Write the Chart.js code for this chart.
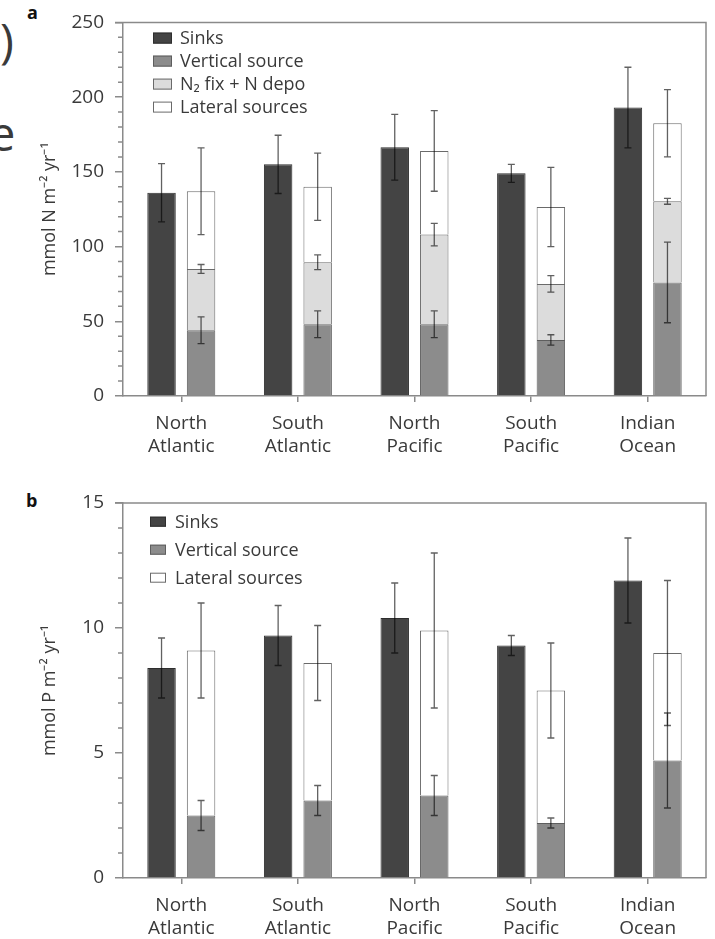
<!DOCTYPE html>
<html><head><meta charset="utf-8">
<script src="https://cdn.jsdelivr.net/npm/chart.js@4.4.0/dist/chart.umd.min.js"></script>
<style>
html,body{margin:0;padding:0;background:#fff;}
body{width:715px;height:939px;overflow:hidden;position:relative;font-family:"Open Sans",sans-serif;}
.wrap{position:absolute;left:0;width:715px;}
#wa{top:0;height:470px;}
#wb{top:476px;height:463px;}
.frag{position:absolute;color:#3a3a3a;font-size:47px;line-height:47px;font-family:"Open Sans",sans-serif;}
.plabel{position:absolute;font-weight:bold;font-size:18px;line-height:18px;color:#111;font-family:"Open Sans",sans-serif;}
</style></head><body>
<div class="frag" style="left:0;top:17px">)</div>
<div class="frag" style="left:-11px;top:110px">e</div>
<div class="plabel" style="left:27px;top:3px">a</div>
<div class="plabel" style="left:26px;top:491px">b</div>
<div id="wa" class="wrap"><canvas id="ca"></canvas></div>
<div id="wb" class="wrap"><canvas id="cb"></canvas></div>
<script>
// ---------- data ----------
const categories = [['North','Atlantic'],['South','Atlantic'],['North','Pacific'],['South','Pacific'],['Indian','Ocean']];

// Panel a: nitrogen (mmol N m-2 yr-1); source values are segment heights of the stacked bar
const nSinks        = [136, 155, 166.5, 149, 193];
const nSinksErr     = [19.5, 19.5, 22, 6, 27];
const nVertical     = [44, 48, 48, 37.5, 76];
const nVerticalErr  = [9, 9, 9, 3.5, 27];
const nFix          = [41, 41.5, 60, 37.5, 54.3];
const nFixErr       = [3, 5, 7.5, 5.5, 2];
const nLateral      = [52, 50.5, 56, 51.5, 52.2];
const nLateralErr   = [29, 22.5, 27, 26.5, 22.5];
const nMajorTicks   = [0, 50, 100, 150, 200, 250];

// Panel b: phosphorus (mmol P m-2 yr-1)
const pSinks        = [8.4, 9.7, 10.4, 9.3, 11.9];
const pSinksErr     = [1.2, 1.2, 1.4, 0.4, 1.7];
const pVertical     = [2.5, 3.1, 3.3, 2.2, 4.7];
const pVerticalErr  = [0.6, 0.6, 0.8, 0.2, 1.9];
const pLateral      = [6.6, 5.5, 6.6, 5.3, 4.3];
const pLateralErr   = [1.9, 1.5, 3.1, 1.9, 2.9];
const pMajorTicks   = [0, 5, 10, 15];

// ---------- styles ----------
const FONT = '"Open Sans", sans-serif';
const AXIS = '#8a8a8a';
const TXT = '#3a3a3a';
const C_SINK = '#444444', C_VERT = '#8c8c8c', C_FIX = '#dcdcdc', C_LAT = '#ffffff';

// ---------- plugins ----------
const framePlugin = {
  id: 'frame',
  afterDraw(chart) {
    const {ctx, chartArea: a} = chart;
    ctx.save();
    ctx.strokeStyle = AXIS; ctx.lineWidth = 1.5;
    ctx.beginPath();
    ctx.moveTo(a.left - 8, a.top); ctx.lineTo(a.right, a.top); ctx.lineTo(a.right, a.bottom);
    ctx.stroke();
    // minor ticks
    const y = chart.scales.y;
    const majors = chart.options.plugins.frame.majors;
    ctx.beginPath();
    y.ticks.forEach(t => {
      if (majors.includes(t.value)) return;
      const py = y.getPixelForValue(t.value);
      ctx.moveTo(a.left - 5, py); ctx.lineTo(a.left, py);
    });
    ctx.stroke();
    ctx.restore();
  }
};

const errorPlugin = {
  id: 'errbars',
  afterDatasetsDraw(chart) {
    const {ctx} = chart;
    const y = chart.scales.y;
    const dsets = chart.data.datasets;
    ctx.save();
    ctx.strokeStyle = 'rgba(0,0,0,0.62)';
    ctx.lineWidth = 1.3;
    dsets.forEach((ds, di) => {
      if (!ds.errors) return;
      const meta = chart.getDatasetMeta(di);
      meta.data.forEach((bar, i) => {
        let top = 0;
        for (let j = 0; j <= di; j++) if (dsets[j].stack === ds.stack) top += dsets[j].data[i];
        const e = ds.errors[i];
        const y1 = y.getPixelForValue(top + e), y2 = y.getPixelForValue(top - e);
        const x = bar.x;
        ctx.beginPath();
        ctx.moveTo(x, y1); ctx.lineTo(x, y2);
        ctx.moveTo(x - 3.5, y1); ctx.lineTo(x + 3.5, y1);
        ctx.moveTo(x - 3.5, y2); ctx.lineTo(x + 3.5, y2);
        ctx.stroke();
      });
    });
    ctx.restore();
  }
};

const legendPlugin = {
  id: 'inlegend',
  afterDraw(chart, args, o) {
    const {ctx, chartArea: a} = chart;
    ctx.save();
    ctx.font = o.fontSize + 'px ' + FONT;
    ctx.textBaseline = 'middle';
    ctx.textAlign = 'left';
    chart.data.datasets.forEach((ds, i) => {
      const cy = a.top + o.dy + i * o.gap;
      const bx = a.left + o.dx;
      ctx.fillStyle = ds.backgroundColor;
      ctx.fillRect(bx, cy - o.bh / 2, o.bw, o.bh);
      ctx.strokeStyle = ds.borderColor; ctx.lineWidth = 1;
      ctx.strokeRect(bx + 0.5, cy - o.bh / 2 + 0.5, o.bw - 1, o.bh - 1);
      ctx.fillStyle = TXT;
      ctx.fillText(ds.label, o.tx + 0, cy + 1);
    });
    ctx.restore();
  }
};

function makeChart(id, cfg) {
  return new Chart(document.getElementById(id), {
    type: 'bar',
    data: { labels: categories, datasets: cfg.datasets },
    options: {
      responsive: true, maintainAspectRatio: false, animation: false,
      layout: { padding: cfg.padding },
      datasets: { bar: { categoryPercentage: 0.678, barPercentage: 0.72, borderWidth: 1 } },
      plugins: {
        legend: { display: false }, tooltip: { enabled: false },
        frame: { majors: cfg.majors },
        inlegend: cfg.legend
      },
      scales: {
        x: {
          stacked: true, offset: true,
          grid: { offset: false, drawOnChartArea: false, drawTicks: true, tickLength: 6, color: AXIS, lineWidth: 1.5 },
          border: { color: AXIS, width: 1.5 },
          ticks: { color: TXT, font: { family: FONT, size: 19 }, padding: 10, maxRotation: 0, autoSkip: false },
          afterFit: s => { s.height = cfg.xH; }
        },
        y: {
          stacked: true, min: 0, max: cfg.max,
          ticks: {
            stepSize: cfg.minor, autoSkip: false, color: TXT, padding: 11,
            font: { family: FONT, size: 19 },
            callback: v => cfg.majors.includes(v) ? String(v) : ''
          },
          grid: { drawOnChartArea: false, tickLength: 8, lineWidth: 1.5,
                  tickColor: c => cfg.majors.includes(c.tick.value) ? AXIS : 'rgba(0,0,0,0)' },
          border: { color: AXIS, width: 1.5 },
          title: { display: true, text: cfg.title, color: TXT, font: { family: FONT, size: 18 }, padding: { top: 39, bottom: 0 } },
          afterFit: s => { s.width = 123; }
        }
      }
    },
    plugins: [framePlugin, errorPlugin, legendPlugin]
  });
}

makeChart('ca', {
  max: 250, minor: 10, majors: nMajorTicks, title: 'mmol N m\u207B\u00B2 yr\u207B\u00B9',
  padding: { top: 15, right: 9, bottom: 14, left: 0 }, xH: 60,
  legend: { dx: 30, dy: 15.7, gap: 23, bw: 19, bh: 11, tx: 180, fontSize: 18 },
  datasets: [
    { label: 'Sinks', data: nSinks, errors: nSinksErr, stack: 'sinks', backgroundColor: C_SINK, borderColor: '#2e2e2e' },
    { label: 'Vertical source', data: nVertical, errors: nVerticalErr, stack: 'src', backgroundColor: C_VERT, borderColor: '#5e5e5e' },
    { label: 'N\u2082 fix + N depo', data: nFix, errors: nFixErr, stack: 'src', backgroundColor: C_FIX, borderColor: '#6a6a6a' },
    { label: 'Lateral sources', data: nLateral, errors: nLateralErr, stack: 'src', backgroundColor: C_LAT, borderColor: '#6a6a6a' }
  ]
});

makeChart('cb', {
  max: 15, minor: 1, majors: pMajorTicks, title: 'mmol P m\u207B\u00B2 yr\u207B\u00B9',
  padding: { top: 27, right: 9, bottom: 5, left: 0 }, xH: 56,
  legend: { dx: 27, dy: 18.7, gap: 28, bw: 16, bh: 10, tx: 175, fontSize: 18 },
  datasets: [
    { label: 'Sinks', data: pSinks, errors: pSinksErr, stack: 'sinks', backgroundColor: C_SINK, borderColor: '#2e2e2e' },
    { label: 'Vertical source', data: pVertical, errors: pVerticalErr, stack: 'src', backgroundColor: C_VERT, borderColor: '#5e5e5e' },
    { label: 'Lateral sources', data: pLateral, errors: pLateralErr, stack: 'src', backgroundColor: C_LAT, borderColor: '#6a6a6a' }
  ]
});
</script>
</body></html>
